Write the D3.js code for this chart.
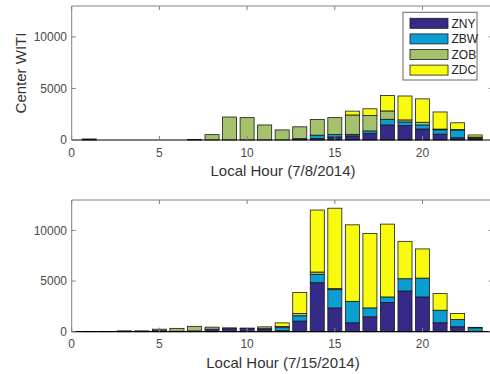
<!DOCTYPE html>
<html>
<head>
<meta charset="utf-8">
<script src="https://cdn.jsdelivr.net/npm/d3@7"></script>
<style>
  html, body { margin: 0; padding: 0; background: #fff; }
  svg { display: block; font-family: "Liberation Sans", Arial, sans-serif; }
</style>
</head>
<body>
<svg id="chart" width="490" height="374"></svg>
<script>
// ---- Data ----
const hours = d3.range(0, 24);
const centers = ["ZNY", "ZBW", "ZOB", "ZDC"];
const colors = ["#352a87", "#0b9ed3", "#a5c16b", "#f9fb0e"];

// 7/8/2014
const day1ZNY = [0, 100, 0, 0, 0, 0, 0, 60, 0, 0, 0, 0, 0, 130, 150, 300, 400, 650, 1460, 1400, 1070, 570, 220, 150];
const day1ZBW = [0, 0, 0, 0, 0, 0, 0, 0, 0, 0, 0, 0, 0, 0, 320, 230, 150, 230, 550, 350, 390, 420, 750, 100];
const day1ZOB = [0, 0, 0, 0, 0, 0, 0, 0, 520, 2230, 2170, 1460, 980, 1150, 1510, 1640, 1880, 1500, 810, 200, 260, 70, 50, 40];
const day1ZDC = [0, 0, 0, 0, 0, 0, 0, 0, 0, 0, 0, 0, 0, 0, 0, 0, 370, 650, 1490, 2320, 2270, 1660, 650, 200];

// 7/15/2014
const day2ZNY = [0, 20, 20, 80, 80, 100, 50, 80, 250, 330, 320, 250, 100, 1050, 4840, 2350, 880, 1470, 2880, 4020, 3430, 880, 490, 50];
const day2ZBW = [0, 0, 0, 0, 0, 0, 0, 0, 0, 0, 40, 50, 300, 520, 820, 1800, 2120, 880, 550, 1210, 1860, 1240, 720, 330];
const day2ZOB = [0, 0, 0, 0, 0, 150, 280, 450, 200, 50, 0, 180, 120, 230, 230, 100, 0, 0, 0, 0, 0, 0, 0, 0];
const day2ZDC = [0, 0, 0, 0, 0, 0, 0, 0, 0, 0, 0, 0, 350, 2060, 6120, 7940, 7550, 7350, 7190, 3690, 2880, 1640, 590, 50];

const xTicks = [0, 5, 10, 15, 20];
const yTicks = [0, 5000, 10000];
const xLabels = ["Local Hour (7/8/2014)", "Local Hour (7/15/2014)"];
const yLabel = "Center WITI";

const panels = [
  { series: [day1ZNY, day1ZBW, day1ZOB, day1ZDC], top: 6, bottom: 140, xlabel: xLabels[0], ylabel: yLabel, legend: true },
  { series: [day2ZNY, day2ZBW, day2ZOB, day2ZDC], top: 200, bottom: 331.7, xlabel: xLabels[1], ylabel: null, legend: false }
];

const svg = d3.select("#chart");
const x = d3.scaleLinear().domain([0, 24]).range([71.7, 492.7]);
const axisColor = "#808080";
const tickText = "#4a4a4a";
const tickLen = 4;

panels.forEach(p => {
  const y = d3.scaleLinear().domain([0, 13000]).range([p.bottom, p.top]);
  const g = svg.append("g");

  // stacked data
  const table = hours.map((h, i) => {
    const o = { hour: h };
    centers.forEach((c, k) => { o[c] = p.series[k][i]; });
    return o;
  });
  const stacked = d3.stack().keys(centers)(table);

  const bw = x(0.8) - x(0);
  stacked.forEach((layer, k) => {
    g.append("g").selectAll("rect")
      .data(layer.filter(d => d[1] - d[0] > 0))
      .join("rect")
      .attr("x", d => x(d.data.hour) - bw / 2)
      .attr("width", bw)
      .attr("y", d => y(d[1]))
      .attr("height", d => y(d[0]) - y(d[1]))
      .attr("fill", colors[k])
      .attr("stroke", "#1a1a1a")
      .attr("stroke-width", 0.8);
  });

  // axes box
  const x0 = x(0), x1 = x(24);
  g.append("line").attr("x1", x0).attr("x2", x1).attr("y1", p.top).attr("y2", p.top).attr("stroke", axisColor);
  g.append("line").attr("x1", x0).attr("x2", x0).attr("y1", p.top).attr("y2", p.bottom).attr("stroke", axisColor);
  g.append("line").attr("x1", x1).attr("x2", x1).attr("y1", p.top).attr("y2", p.bottom).attr("stroke", axisColor);
  // baseline (black)
  g.append("line").attr("x1", x0).attr("x2", x1).attr("y1", y(0)).attr("y2", y(0)).attr("stroke", "#000").attr("stroke-width", 1.2);

  // x ticks (inward, bottom & top)
  xTicks.forEach(t => {
    g.append("line").attr("x1", x(t)).attr("x2", x(t)).attr("y1", p.bottom).attr("y2", p.bottom - tickLen).attr("stroke", axisColor);
    g.append("line").attr("x1", x(t)).attr("x2", x(t)).attr("y1", p.top).attr("y2", p.top + tickLen).attr("stroke", axisColor);
    g.append("text").attr("x", x(t)).attr("y", p.bottom + 16.5)
      .attr("text-anchor", "middle").attr("font-size", 12).attr("fill", tickText).text(t);
  });
  // y ticks (inward, left & right)
  yTicks.forEach(t => {
    g.append("line").attr("x1", x0).attr("x2", x0 + tickLen).attr("y1", y(t)).attr("y2", y(t)).attr("stroke", axisColor);
    g.append("line").attr("x1", x1).attr("x2", x1 - tickLen).attr("y1", y(t)).attr("y2", y(t)).attr("stroke", axisColor);
    g.append("text").attr("x", 67).attr("y", y(t)).attr("dy", "0.35em")
      .attr("text-anchor", "end").attr("font-size", 12).attr("fill", tickText).text(t);
  });

  // x label
  g.append("text").attr("x", 283).attr("y", p.bottom + 36)
    .attr("text-anchor", "middle").attr("font-size", 15).attr("fill", "#333").text(p.xlabel);

  if (p.ylabel) {
    g.append("text").attr("transform", `translate(26,${(p.top + p.bottom) / 2}) rotate(-90)`)
      .attr("text-anchor", "middle").attr("font-size", 15).attr("fill", "#333").text(p.ylabel);
  }

  if (p.legend) {
    const lg = g.append("g");
    lg.append("rect").attr("x", 403).attr("y", 12.3).attr("width", 74).attr("height", 67.7)
      .attr("fill", "#fff").attr("stroke", "#666").attr("stroke-width", 1);
    centers.forEach((c, k) => {
      const yy = 18.3 + k * 15.6;
      lg.append("rect").attr("x", 410).attr("y", yy).attr("width", 38).attr("height", 10)
        .attr("fill", colors[k]).attr("stroke", "#1a1a1a").attr("stroke-width", 0.8);
      lg.append("text").attr("x", 451.5).attr("y", yy + 5).attr("dy", "0.36em")
        .attr("font-size", 12).attr("fill", "#222").text(c);
    });
  }
});
</script>
</body>
</html>
